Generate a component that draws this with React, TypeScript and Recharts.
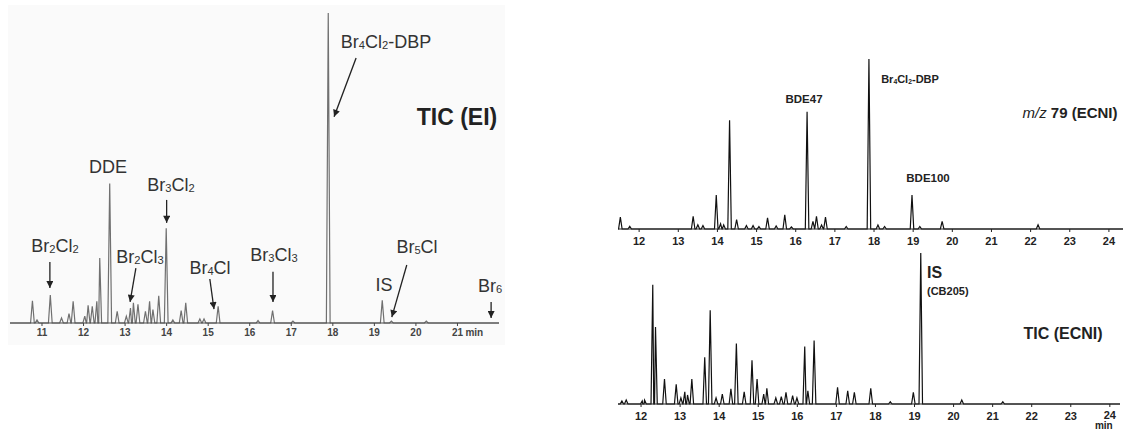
import React from 'react'
import { LineChart, Line, XAxis, YAxis, ReferenceLine } from 'recharts'

// TIC (EI): retention time (min) and height (% of tallest peak)
const eiTimes = [10.77, 10.88, 11.2, 11.47, 11.65, 11.75, 12.03, 12.11, 12.21, 12.32, 12.39, 12.63, 12.81, 13.03, 13.13, 13.2, 13.31, 13.49, 13.59, 13.67, 13.81, 13.99, 14.15, 14.35, 14.46, 14.8, 14.9, 15.24, 16.2, 16.55, 17.04, 17.89, 19.19, 19.41, 20.25]
const eiHeights = [7.2, 1, 9, 1.6, 3, 7, 2.2, 5.7, 5.4, 7, 21, 45, 3.8, 2.2, 4.8, 6.5, 6, 3.8, 7, 4.3, 8.8, 30.6, 1, 4, 6.5, 1.3, 1.3, 5.4, 0.8, 4, 0.6, 100, 7.3, 0.6, 0.6]
const eiTicks = [11, 12, 13, 14, 15, 16, 17, 18, 19, 20, 21]

// m/z 79 (ECNI)
const mz79Times = [11.52, 11.76, 13.38, 13.5, 13.63, 13.97, 14.08, 14.16, 14.31, 14.49, 14.74, 14.91, 15.06, 15.28, 15.5, 15.72, 15.89, 16.29, 16.44, 16.53, 16.66, 16.76, 17.29, 17.87, 18.1, 18.27, 18.97, 19.17, 19.74, 22.19]
const mz79Heights = [7, 1.6, 7.4, 2.5, 2, 20, 3, 2.4, 64, 5.5, 2, 2, 1.5, 6.5, 1.8, 8.4, 1.2, 69, 4.5, 7.5, 2.4, 7, 1.5, 100, 2.4, 1.5, 20, 1.5, 4.5, 2.5]

// TIC (ECNI)
const ecniTimes = [11.51, 11.62, 12.03, 12.09, 12.3, 12.37, 12.6, 12.9, 13.02, 13.12, 13.19, 13.3, 13.63, 13.77, 13.92, 14.08, 14.3, 14.44, 14.64, 14.84, 14.97, 15.14, 15.22, 15.45, 15.59, 15.71, 15.88, 15.99, 16.19, 16.27, 16.43, 17.03, 17.29, 17.46, 17.88, 18.38, 18.97, 19.16, 20.21, 21.26]
const ecniHeights = [2, 2.6, 2, 2.6, 79, 51, 16.6, 13, 4, 8, 6, 16.6, 31, 62, 4, 6.6, 10, 40, 8, 29, 16.6, 6.6, 10.4, 4, 4.9, 7.7, 5.5, 4, 38, 8.8, 42, 11, 8.8, 7.7, 10.4, 1.5, 7.7, 100, 2.6, 1.5]
const ecniTicks = [12, 13, 14, 15, 16, 17, 18, 19, 20, 21, 22, 23, 24]

const FONT = '"Liberation Sans", Arial, sans-serif'

type Pt = { t: number; v: number }

function trace(times: number[], heights: number[], halfWidth: number, domain: number[]): Pt[] {
  const pts: Pt[] = [{ t: domain[0], v: 0 }, { t: domain[1], v: 0 }]
  times.forEach((t, i) => {
    pts.push({ t: t - halfWidth, v: 0 }, { t, v: heights[i] }, { t: t + halfWidth, v: 0 })
  })
  return pts.sort((a, b) => a.t - b.t)
}

const eiDomain = [10.23, 22]
const mz79Domain = [11.46, 24.36]
const ecniDomain = [11.41, 24.26]

const eiData = trace(eiTimes, eiHeights, 0.045, eiDomain)
const mz79Data = trace(mz79Times, mz79Heights, 0.045, mz79Domain)
const ecniData = trace(ecniTimes, ecniHeights, 0.045, ecniDomain)

// arrows in the EI panel: [t1, v1, t2, v2]
const eiArrows = [
  [11.19, 19.7, 11.19, 11.3],
  [14.0, 39.7, 14.0, 32.3],
  [13.26, 17.7, 13.12, 6.8],
  [15.04, 14.2, 15.14, 4.5],
  [16.56, 16.5, 16.56, 6.8],
  [19.78, 18.7, 19.42, 1.9],
  [21.81, 6.8, 21.81, 1.6],
  [18.56, 85.5, 18.03, 66.5],
]

function Formula({ text }: { text: string }) {
  return (
    <>
      {text.split(/(\d)/).map((p, i) =>
        /\d/.test(p) ? (
          <span key={i} style={{ fontSize: '0.62em', verticalAlign: '-0.12em' }}>{p}</span>
        ) : (
          <span key={i}>{p}</span>
        )
      )}
    </>
  )
}

function Note({ x, y, size, bold, anchor = 'middle', color = '#222', children }: any) {
  return (
    <div
      style={{
        position: 'absolute',
        left: x,
        top: y,
        transform: anchor === 'middle' ? 'translate(-50%, -50%)' : 'translate(0, -50%)',
        fontSize: size,
        fontWeight: bold ? 700 : 400,
        fontFamily: FONT,
        color,
        whiteSpace: 'nowrap',
        lineHeight: 1,
      }}
    >
      {children}
    </div>
  )
}

function EiTick({ x, y, payload }: any) {
  const last = payload.value === 21
  return (
    <g>
      <text x={x} y={y} dy="0.71em" textAnchor="middle" fontSize={10} fontWeight={700} fill="#444" fontFamily={FONT}>
        {payload.value}
      </text>
      {last && (
        <text x={x + 8} y={y} dy="0.71em" textAnchor="start" fontSize={10} fontWeight={700} fill="#444" fontFamily={FONT}>
          min
        </text>
      )}
    </g>
  )
}

function EcniTick({ x, y, payload }: any) {
  const last = payload.value === 24
  return (
    <g>
      <text x={x} y={last ? y - 1 : y} dy="0.71em" textAnchor="middle" fontSize={11} fontWeight={700} fill="#222" fontFamily={FONT}>
        {payload.value}
      </text>
      {last && (
        <text x={x - 6} y={y + 10} dy="0.71em" textAnchor="middle" fontSize={10} fontWeight={700} fill="#222" fontFamily={FONT}>
          min
        </text>
      )}
    </g>
  )
}

const tickStyle = { fontSize: 11, fontWeight: 700, fill: '#222', fontFamily: FONT }

export default function App() {
  return (
    <div style={{ position: 'absolute', left: 0, top: 0, width: 1129, height: 431, background: '#fff', overflow: 'hidden' }}>
      <svg width={0} height={0} style={{ position: 'absolute' }}>
        <defs>
          <marker id="arrowHead" viewBox="0 0 10 10" refX="10" refY="5" markerWidth="9" markerHeight="7" markerUnits="userSpaceOnUse" orient="auto">
            <path d="M0,0 L10,5 L0,10 z" fill="#222" />
          </marker>
        </defs>
      </svg>

      <div style={{ position: 'absolute', left: 8, top: 5, width: 497, height: 340, background: '#fafafa' }} />

      <div style={{ position: 'absolute', left: 0, top: 0 }}>
        <LineChart width={580} height={370} data={eiData} margin={{ top: 13, right: 81, bottom: 17, left: 10 }}>
          <XAxis
            type="number"
            dataKey="t"
            domain={eiDomain}
            allowDataOverflow
            ticks={eiTicks}
            interval={0}
            height={30}
            tickSize={3}
            tickMargin={3}
            axisLine={{ stroke: '#444' }}
            tickLine={{ stroke: '#444' }}
            tick={<EiTick />}
          />
          <YAxis hide domain={[0, 100]} />
          <Line type="linear" dataKey="v" stroke="#707070" strokeWidth={1.2} dot={false} isAnimationActive={false} />
          {eiArrows.map((a, i) => (
            <ReferenceLine
              key={i}
              segment={[{ x: a[0], y: a[1] }, { x: a[2], y: a[3] }]}
              ifOverflow="visible"
              shape={(p: any) => (
                <line x1={p.x1} y1={p.y1} x2={p.x2} y2={p.y2} stroke="#222" strokeWidth={1.3} markerEnd="url(#arrowHead)" />
              )}
            />
          ))}
        </LineChart>
      </div>

      <div style={{ position: 'absolute', left: 600, top: 0 }}>
        <LineChart width={529} height={260} data={mz79Data} margin={{ top: 59, right: 6, bottom: 6, left: 18 }}>
          <XAxis
            type="number"
            dataKey="t"
            domain={mz79Domain}
            allowDataOverflow
            ticks={ecniTicks}
            interval={0}
            height={25}
            tickSize={3}
            tickMargin={5}
            axisLine={{ stroke: '#222' }}
            tickLine={{ stroke: '#222' }}
            tick={tickStyle}
          />
          <YAxis hide domain={[0, 100]} />
          <Line type="linear" dataKey="v" stroke="#111" strokeWidth={1.2} dot={false} isAnimationActive={false} />
        </LineChart>
      </div>

      <div style={{ position: 'absolute', left: 600, top: 248 }}>
        <LineChart width={529} height={183} data={ecniData} margin={{ top: 5, right: 9, bottom: 7, left: 18 }}>
          <XAxis
            type="number"
            dataKey="t"
            domain={ecniDomain}
            allowDataOverflow
            ticks={ecniTicks}
            interval={0}
            height={20}
            tickSize={3}
            tickMargin={5}
            axisLine={{ stroke: '#222' }}
            tickLine={{ stroke: '#222' }}
            tick={<EcniTick />}
          />
          <YAxis hide domain={[0, 100]} />
          <Line type="linear" dataKey="v" stroke="#111" strokeWidth={1.2} dot={false} isAnimationActive={false} />
        </LineChart>
      </div>

      {/* EI panel labels */}
      <Note x={386} y={42} size={18} color="#333"><Formula text="Br4Cl2-DBP" /></Note>
      <Note x={457} y={117} size={23} bold color="#222">TIC (EI)</Note>
      <Note x={108} y={167} size={18} color="#333">DDE</Note>
      <Note x={171} y={185} size={18} color="#333"><Formula text="Br3Cl2" /></Note>
      <Note x={55} y={246} size={18} color="#333"><Formula text="Br2Cl2" /></Note>
      <Note x={140} y={257} size={18} color="#333"><Formula text="Br2Cl3" /></Note>
      <Note x={210} y={268} size={18} color="#333"><Formula text="Br4Cl" /></Note>
      <Note x={274} y={255} size={18} color="#333"><Formula text="Br3Cl3" /></Note>
      <Note x={384} y={285} size={18} color="#333">IS</Note>
      <Note x={417} y={247} size={18} color="#333"><Formula text="Br5Cl" /></Note>
      <Note x={490} y={286} size={18} color="#333"><Formula text="Br6" /></Note>

      {/* m/z 79 panel labels */}
      <Note x={804} y={100} size={11.5} bold>BDE47</Note>
      <Note x={910} y={80} size={11} bold><Formula text="Br4Cl2-DBP" /></Note>
      <Note x={928} y={179} size={11.5} bold>BDE100</Note>
      <Note x={1070} y={112} size={15}>
        <span style={{ fontStyle: 'italic' }}>m/z</span> <b>79 (ECNI)</b>
      </Note>

      {/* TIC (ECNI) panel labels */}
      <Note x={927} y={273} size={16} bold anchor="start">IS</Note>
      <Note x={927} y={291} size={11} bold anchor="start">(CB205)</Note>
      <Note x={1063} y={334} size={16} bold>TIC (ECNI)</Note>
    </div>
  )
}
